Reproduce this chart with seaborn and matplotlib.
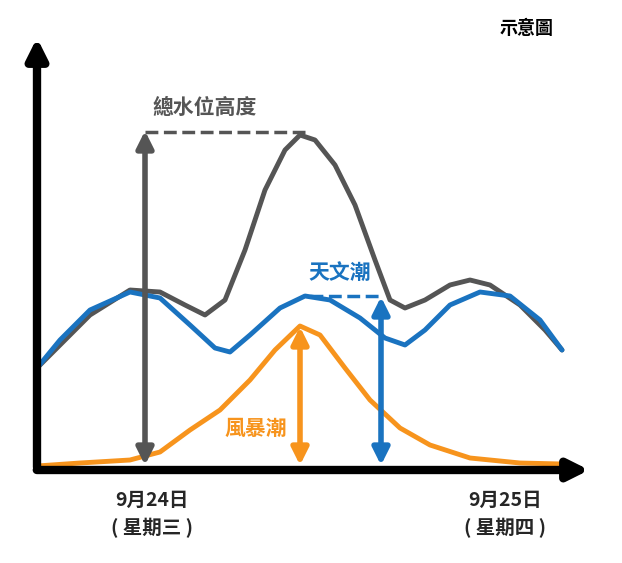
import matplotlib
matplotlib.use("Agg")
import matplotlib.pyplot as plt
import seaborn as sns
import pandas as pd

sns.set_style("white")
plt.rcParams['font.family'] = ['Noto Sans CJK TC', 'DejaVu Sans']

H = 563
blue_x = [37,60,90,130,160,190,215,230,250,280,305,330,360,385,405,425,450,480,510,540,562]
blue_py = [368,340,310,292,298,325,348,352,335,308,296,300,318,338,345,330,305,292,296,320,350]
orange_x = [37,80,130,160,190,220,250,275,300,320,345,370,400,430,470,520,562]
orange_py = [466,463,460,452,430,410,380,350,326,335,368,400,428,445,458,463,464]
grey_x = [37,60,90,130,160,185,205,225,245,265,285,300,315,335,355,375,390,405,425,450,470,490,520,545,562]
grey_py = [368,345,315,290,292,305,315,300,250,190,150,135,140,165,205,260,300,308,300,285,280,285,305,330,350]

fig = plt.figure(figsize=(6.22, 5.63), dpi=100)
ax = fig.add_axes([0, 0, 1, 1])
ax.set_xlim(0, 622); ax.set_ylim(0, H); ax.axis('off')

def df(x, py):
    return pd.DataFrame({'x': x, 'y': [H - p for p in py]})

sns.lineplot(data=df(grey_x, grey_py), x='x', y='y', color='#555555', lw=3.5, ax=ax, sort=False)
sns.lineplot(data=df(blue_x, blue_py), x='x', y='y', color='#1a73c0', lw=3.5, ax=ax, sort=False)
sns.lineplot(data=df(orange_x, orange_py), x='x', y='y', color='#f7941d', lw=3.5, ax=ax, sort=False)

# axes arrows
ax.annotate('', xy=(37, H-35), xytext=(37, H-470), arrowprops=dict(arrowstyle='-|>,head_width=0.6,head_length=1.2', lw=6, color='black'))
ax.annotate('', xy=(592, H-470), xytext=(34, H-470), arrowprops=dict(arrowstyle='-|>,head_width=0.6,head_length=1.2', lw=6, color='black'))

def darrow(x, y0, y1, c):
    ax.annotate('', xy=(x, H-y1), xytext=(x, H-y0), arrowprops=dict(arrowstyle='<|-|>,head_width=0.5,head_length=1.0', lw=4, color=c))

darrow(145, 468, 128, '#555555')
ax.plot([145, 305], [H-132, H-132], ls='--', color='#555555', lw=2.5)
darrow(381, 468, 294, '#1a73c0')
ax.plot([310, 381], [H-296, H-296], ls='--', color='#1a73c0', lw=2.5)
darrow(300, 468, 324, '#f7941d')

ax.text(205, H-107, '總水位高度', color='#555555', fontsize=15, fontweight='bold', ha='center', va='center')
ax.text(340, H-272, '天文潮', color='#1a73c0', fontsize=15, fontweight='bold', ha='center', va='center')
ax.text(256, H-428, '風暴潮', color='#f7941d', fontsize=15, fontweight='bold', ha='center', va='center')
ax.text(527, H-28, '示意圖', color='black', fontsize=13, fontweight='bold', ha='center', va='center')
for x, l1, l2 in [(152, '9月24日', '( 星期三 )'), (505, '9月25日', '( 星期四 )')]:
    ax.text(x, H-500, l1, fontsize=14, fontweight='bold', ha='center', va='center')
    ax.text(x, H-528, l2, fontsize=14, fontweight='bold', ha='center', va='center')

fig.savefig('out.png', dpi=100)
